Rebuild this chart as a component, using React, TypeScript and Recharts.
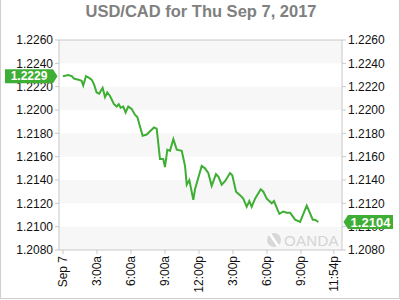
import { LineChart, Line, XAxis, YAxis, ReferenceArea, ReferenceLine } from 'recharts'

// hours since midnight Sep 7 and the USD/CAD rate at that time
const hours = [
  0, 0.47, 0.77, 0.97, 1.35, 1.65, 1.79, 2.03, 2.23, 2.53, 2.74, 2.97, 3.2, 3.5, 3.71, 3.91,
  4.15, 4.5, 4.74, 4.92, 5.09, 5.32, 5.53, 5.76, 6.06, 6.35, 6.56, 7.03, 7.39, 8.03, 8.27,
  8.56, 8.85, 9.0, 9.21, 9.44, 9.74, 10.04, 10.48, 10.77, 10.92, 11.15, 11.5, 11.65, 12.24,
  12.53, 12.82, 13.12, 13.5, 13.71, 14.01, 14.3, 14.74, 14.94, 15.27, 15.62, 15.91, 16.21,
  16.44, 16.65, 16.95, 17.45, 17.68, 17.98, 18.42, 18.62, 19.09, 19.44, 19.74, 20.04, 20.48,
  20.92, 21.51, 22.04, 22.24, 22.53,
]
const rates = [
  1.2229, 1.2230, 1.2229, 1.2227, 1.2226, 1.2225, 1.2221, 1.2229, 1.2228, 1.2226, 1.2222,
  1.2215, 1.2214, 1.2219, 1.2211, 1.2215, 1.2212, 1.2205, 1.2203, 1.2205, 1.2202, 1.2203,
  1.2198, 1.2203, 1.2201, 1.2196, 1.2194, 1.2178, 1.2179, 1.2185, 1.2184, 1.2158, 1.2158,
  1.2151, 1.2166, 1.2165, 1.2175, 1.2166, 1.2165, 1.2152, 1.2136, 1.2140, 1.2123, 1.2132,
  1.2152, 1.2150, 1.2146, 1.2135, 1.2145, 1.2143, 1.2136, 1.2139, 1.2146, 1.2144, 1.2130,
  1.2127, 1.2124, 1.2117, 1.2122, 1.2117, 1.2124, 1.2132, 1.2130, 1.2124, 1.2120, 1.2122,
  1.2111, 1.2113, 1.2112, 1.2112, 1.2106, 1.2104, 1.2118, 1.2106, 1.2106, 1.2104,
]

const xTicks = [0, 3, 6, 9, 12, 15, 18, 21, 23.9]
const xLabels = ['Sep 7', '3:00a', '6:00a', '9:00a', '12:00p', '3:00p', '6:00p', '9:00p', '11:54p']
const yTicks = [1.208, 1.21, 1.212, 1.214, 1.216, 1.218, 1.22, 1.222, 1.224, 1.226]
const bands = [[1.208, 1.21], [1.212, 1.214], [1.216, 1.218], [1.22, 1.222], [1.224, 1.226]]

const data = hours.map((h, i) => ({ h, rate: rates[i] }))
const openRate = rates[0]
const lastRate = rates[rates.length - 1]

const GREEN = '#3fae34'
const FONT = '"Liberation Sans", Arial, sans-serif'
const X_DOMAIN = [-0.35, 24.62]
const Y_DOMAIN = [1.208, 1.226]
const MARGIN = { top: 40, right: 0, bottom: 0, left: 0 }

function XTick({ x, y, payload }: any) {
  const label = xLabels[xTicks.indexOf(payload.value)]
  return (
    <text
      transform={`translate(${x},${y}) rotate(-90)`}
      textAnchor="end"
      dy="0.35em"
      fontSize={12}
      fill="#111"
      fontFamily={FONT}
    >
      {label}
    </text>
  )
}

function PriceTag({ viewBox, text, side, size }: any) {
  const { x, y, width } = viewBox
  const h = 7
  let pts, cx
  if (side === 'left') {
    const tip = x - 1.5
    const r = x - 6
    const l = x - 54
    pts = `${l},${y - h} ${r},${y - h} ${tip},${y} ${r},${y + h} ${l},${y + h}`
    cx = (l + r) / 2
  } else {
    const tip = x + width + 1.5
    const l = x + width + 6
    const r = x + width + 51
    pts = `${tip},${y} ${l},${y - h} ${r},${y - h} ${r},${y + h} ${l},${y + h}`
    cx = (l + r) / 2
  }
  return (
    <g>
      <polygon points={pts} fill={GREEN} />
      <text x={cx} y={y} dy="0.36em" textAnchor="middle" fill="#fff" fontWeight="bold" fontSize={size} fontFamily={FONT}>
        {text}
      </text>
    </g>
  )
}

export default function App() {
  return (
    <div
      style={{
        position: 'absolute', left: 0, top: 0, width: 400, height: 299, boxSizing: 'border-box',
        borderLeft: '1px solid #cfcfcf', borderRight: '1px solid #cfcfcf', borderBottom: '1px solid #cfcfcf',
        background: '#fff', fontFamily: FONT,
      }}
    >
      <div
        style={{
          position: 'absolute', left: 0, top: 1, width: 400, textAlign: 'center',
          fontSize: 16.5, fontWeight: 'bold', color: '#808080', lineHeight: '20px',
        }}
      >
        USD/CAD for Thu Sep 7, 2017
      </div>
      <div style={{ position: 'absolute', left: -1, top: 0 }}>
        <LineChart width={400} height={300} data={data} margin={MARGIN}>
          {bands.map(([a, b]) => (
            <ReferenceArea key={a} yAxisId="left" y1={a} y2={b} fill="#f7f7f7" fillOpacity={1} stroke="none" ifOverflow="hidden" />
          ))}
          <XAxis
            dataKey="h"
            type="number"
            domain={X_DOMAIN}
            ticks={xTicks}
            interval={0}
            height={50}
            tickSize={4}
            tickMargin={2}
            tick={<XTick />}
            stroke="#c8c8c8"
            allowDataOverflow
          />
          <YAxis
            yAxisId="left"
            domain={Y_DOMAIN}
            ticks={yTicks}
            interval={0}
            width={59}
            tickSize={4}
            tickMargin={2}
            tickFormatter={(v: number) => v.toFixed(4)}
            tick={{ fontSize: 12, fill: '#111', fontFamily: FONT }}
            stroke="#c8c8c8"
            allowDataOverflow
          />
          <YAxis
            yAxisId="right"
            orientation="right"
            domain={Y_DOMAIN}
            ticks={yTicks}
            interval={0}
            width={58}
            tickSize={4}
            tickMargin={2}
            tickFormatter={(v: number) => v.toFixed(4)}
            tick={{ fontSize: 12, fill: '#111', fontFamily: FONT }}
            stroke="#c8c8c8"
            allowDataOverflow
          />
          <ReferenceLine yAxisId="left" y={1.226} stroke="#c8c8c8" />
          <Line
            yAxisId="left"
            type="linear"
            dataKey="rate"
            stroke={GREEN}
            strokeWidth={2}
            dot={false}
            isAnimationActive={false}
          />
        </LineChart>
      </div>
      <svg width={400} height={300} style={{ position: 'absolute', left: -1, top: 0, pointerEvents: 'none' }}>
        <circle cx={274} cy={240} r={7} fill="#d8d8d8" />
        <line x1={270} y1={234} x2={278} y2={246} stroke="#fff" strokeWidth={2.5} />
        <text x={284} y={246} fontSize={15} fill="#d4d4d4" fontFamily={FONT} letterSpacing={0.3}>
          OANDA
        </text>
      </svg>
      {/* same scales again on top, only to draw the price tags above the tick labels */}
      <div style={{ position: 'absolute', left: -1, top: 0, pointerEvents: 'none' }}>
        <LineChart width={400} height={300} data={data} margin={MARGIN}>
          <XAxis dataKey="h" type="number" domain={X_DOMAIN} height={50} tick={false} axisLine={false} tickLine={false} allowDataOverflow />
          <YAxis yAxisId="left" domain={Y_DOMAIN} width={59} tick={false} axisLine={false} tickLine={false} allowDataOverflow />
          <YAxis yAxisId="right" orientation="right" domain={Y_DOMAIN} width={58} tick={false} axisLine={false} tickLine={false} allowDataOverflow />
          <Line yAxisId="left" dataKey="rate" stroke="none" dot={false} isAnimationActive={false} />
          <ReferenceLine
            yAxisId="left"
            y={openRate}
            stroke="none"
            label={<PriceTag side="left" text={openRate.toFixed(4)} size={12} />}
          />
          <ReferenceLine
            yAxisId="left"
            y={lastRate}
            stroke="none"
            label={<PriceTag side="right" text={lastRate.toFixed(4)} size={13} />}
          />
        </LineChart>
      </div>
    </div>
  )
}
